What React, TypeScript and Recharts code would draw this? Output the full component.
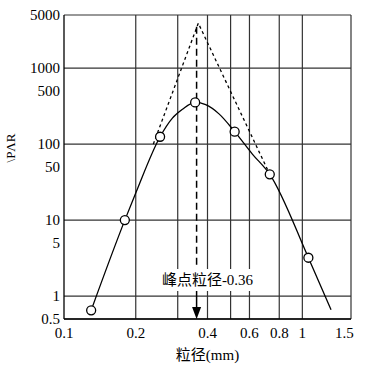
import {ComposedChart, CartesianGrid, Line, ReferenceDot, ReferenceLine, XAxis, YAxis} from "recharts";

// measured sample points (circles)
const sampleSize = [0.13, 0.18, 0.253, 0.355, 0.52, 0.73, 1.06];
const sampleValue = [0.65, 10, 125, 354, 146, 40, 3.2];

// smooth fitted curve
const curveSize = [0.13, 0.18, 0.2, 0.253, 0.285, 0.314, 0.355, 0.393, 0.447, 0.52, 0.617, 0.73, 1.06, 1.32];
const curveValue = [0.65, 10, 22.7, 125, 220, 287, 354, 330, 250, 146, 74, 40, 3.2, 0.66];

// dashed tangents meeting at the peak
const tangentSize = [0.237, 0.366, 0.73];
const tangentValue = [100, 3900, 40];

// peak marker
const peakSize = 0.36;
const peakLabel = "峰点粒径-0.36";
const peakLineSpan = [3500, 2.5];
const peakArrowSpan = [1.17, 0.5];
const labelAt = {x: 0.4, y: 1.63};

const xTicks = [0.1, 0.2, 0.4, 0.6, 0.8, 1, 1.5];
const xGrid = [0.2, 0.3, 0.4, 0.5, 0.6, 0.8, 1, 1.6];
const yTicks = [0.5, 1, 5, 10, 50, 100, 500, 1000, 5000];

const samples = sampleSize.map((x, i) => ({x, y: sampleValue[i]}));
const curve = curveSize.map((x, i) => ({x, y: curveValue[i]}));
const tangent = tangentSize.map((x, i) => ({x, y: tangentValue[i]}));

const serif = "'Liberation Serif', 'Times New Roman', serif";
const mixed = "'Liberation Serif', 'Noto Sans CJK SC', serif";
const tickStyle = {fontSize: 15, fill: "#000", fontFamily: serif};

function PeakLabel(props: any) {
  const {cx, cy} = props;
  return (
    <g>
      <rect x={cx - 48} y={cy - 11} width={97} height={22} fill="#fff"/>
      <text x={cx} y={cy} textAnchor="middle" dominantBaseline="central" fontSize={15} fontFamily={mixed} fill="#000">
        {peakLabel}
      </text>
    </g>
  );
}

function Arrow(props: any) {
  const {x1, y1, x2, y2} = props;
  return (
    <g>
      <line x1={x1} y1={y1} x2={x2} y2={y2 - 8} stroke="#000" strokeWidth={1.5}/>
      <polygon points={`${x2 - 4.5},${y2 - 12} ${x2 + 4.5},${y2 - 12} ${x2},${y2}`} fill="#000"/>
    </g>
  );
}

export default function App() {
  return (
    <div style={{position: "absolute", left: 0, top: 0, background: "#fff"}}>
      <ComposedChart width={371} height={368} margin={{top: 15, right: 20, bottom: 0, left: 0}}>
        <CartesianGrid vertical={false} stroke="#333" strokeWidth={1.2}/>
        <XAxis type="number" dataKey="x" scale="log" domain={[0.1, 1.6]} ticks={xTicks} allowDataOverflow
               tick={tickStyle} tickLine={false} tickSize={6} tickMargin={2} axisLine={{stroke: "#000", strokeWidth: 1.3}}
               height={49}
               label={{value: "粒径(mm)", position: "insideBottom", offset: 8, fontSize: 15, fill: "#000", fontFamily: mixed}}/>
        <YAxis type="number" dataKey="y" scale="log" domain={[0.5, 5000]} ticks={yTicks} allowDataOverflow
               tick={tickStyle} tickLine={false} tickSize={4} tickMargin={0} width={64}
               axisLine={{stroke: "#000", strokeWidth: 1.3}}/>
        {xGrid.map((g) => (
          <ReferenceLine key={g} x={g} stroke="#333" strokeWidth={1.2}/>
        ))}
        <Line data={tangent} dataKey="y" type="linear" stroke="#000" strokeWidth={1.3} strokeDasharray="3 3"
              dot={false} isAnimationActive={false}/>
        <Line data={curve} dataKey="y" type="monotone" stroke="#000" strokeWidth={1.3}
              dot={false} isAnimationActive={false}/>
        <ReferenceLine segment={[{x: peakSize, y: peakLineSpan[0]}, {x: peakSize, y: peakLineSpan[1]}]}
                       stroke="#000" strokeWidth={1.5} strokeDasharray="7 4"/>
        <Line data={samples} dataKey="y" stroke="none" isAnimationActive={false}
              dot={{r: 4.5, fill: "#fff", stroke: "#000", strokeWidth: 1.3}}/>
        <ReferenceDot x={labelAt.x} y={labelAt.y} shape={PeakLabel}/>
        <ReferenceLine segment={[{x: peakSize, y: peakArrowSpan[0]}, {x: peakSize, y: peakArrowSpan[1]}]}
                       shape={Arrow}/>
        <text x={10} y={148} transform="rotate(-90 10 148)" textAnchor="middle" dominantBaseline="central"
              fontSize={13} fontFamily={serif} fill="#000">
          {"\\PΛR"}
        </text>
      </ComposedChart>
    </div>
  );
}
